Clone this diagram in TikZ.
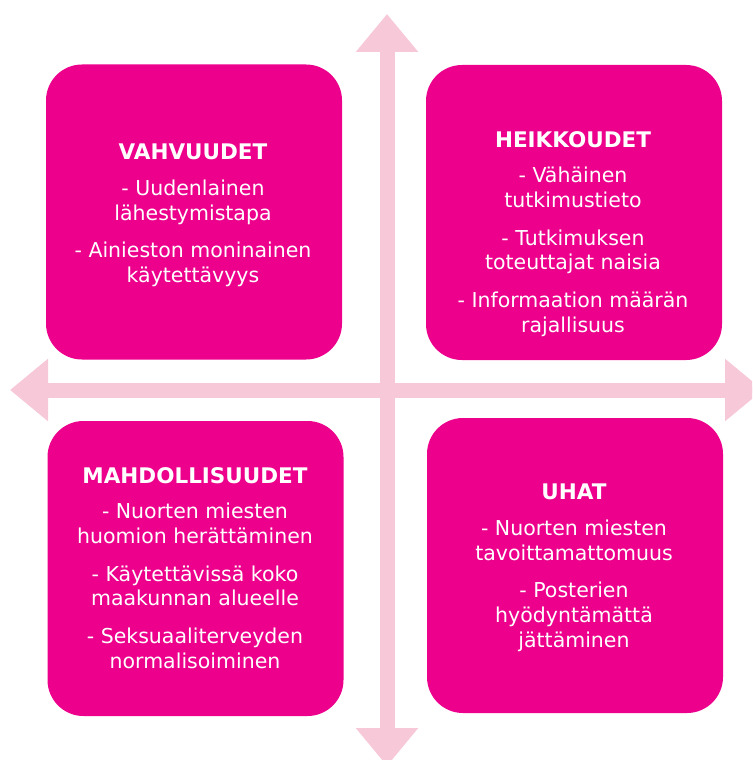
\documentclass[tikz,border=0pt]{standalone}
\usepackage{fontspec}
\setmainfont{DejaVu Sans}
\usetikzlibrary{arrows.meta}
\definecolor{swotpink}{RGB}{236,0,140}
\definecolor{crosspink}{RGB}{246,200,216}
\tikzset{
  quad/.style={fill=swotpink, draw=none, rounded corners=36pt, minimum width=296pt, minimum height=295pt, inner sep=0pt},
  quadtext/.style={text=white, align=center, inner sep=0pt, anchor=north, font=\fontsize{20.5}{24.7}\selectfont},
  crossarrow/.style={draw=crosspink, line width=15pt, {Triangle[width=60pt,length=38pt]}-{Triangle[width=60pt,length=38pt]}}
}
\newcommand{\quadtitle}[1]{{\fontsize{21.5}{24.7}\selectfont\bfseries #1}}

\begin{document}
\begin{tikzpicture}[x=1pt,y=1pt,yscale=-1,xscale=1]
\useasboundingbox (0,0) rectangle (752,760);

%Cross arrows
\begin{scope}
\clip (0,0) rectangle (752,760);
\coordinate (north) at (387,14);
\coordinate (south) at (387,766);
\coordinate (west) at (10,390);
\coordinate (east) at (763,390);
\draw [crossarrow] (north) -- (south);
\draw [crossarrow] (west) -- (east);
\end{scope}

%Shape: Rounded Rect
\node [quad] (vahv) at (194,212) {};
%Shape: Rounded Rect
\node [quad] (heik) at (574,212.5) {};
%Shape: Rounded Rect
\node [quad] (mahd) at (195.5,568.5) {};
%Shape: Rounded Rect
\node [quad] (uhat) at (575,565.5) {};

% Text Node
\node [quadtext] (vahvtext) at (193,144) {\quadtitle{VAHVUUDET}\\[11pt]
- Uudenlainen\\ lähestymistapa\\[13pt]
- Ainieston moninainen\\ käytettävyys};
% Text Node
\node [quadtext] (heiktext) at (573,131) {\quadtitle{HEIKKOUDET}\\[11pt]
- Vähäinen\\ tutkimustieto\\[13pt]
- Tutkimuksen\\ toteuttajat naisia\\[13pt]
- Informaation määrän\\ rajallisuus};
% Text Node
\node [quadtext] (mahdtext) at (195,467) {\quadtitle{MAHDOLLISUUDET}\\[11pt]
- Nuorten miesten\\ huomion herättäminen\\[13pt]
- Käytettävissä koko\\ maakunnan alueelle\\[13pt]
- Seksuaaliterveyden\\ normalisoiminen};
% Text Node
\node [quadtext] (uhattext) at (574,484) {\quadtitle{UHAT}\\[11pt]
- Nuorten miesten\\ tavoittamattomuus\\[13pt]
- Posterien\\ hyödyntämättä\\ jättäminen};
\end{tikzpicture}
\end{document}
